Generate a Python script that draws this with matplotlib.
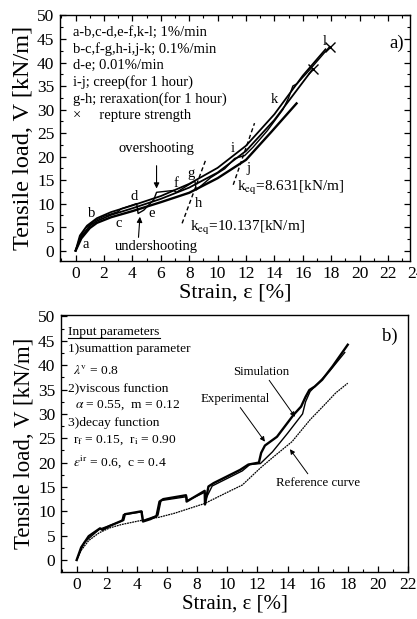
import matplotlib
matplotlib.use("Agg")
import matplotlib.pyplot as plt
from matplotlib.ticker import MultipleLocator
from matplotlib.lines import Line2D

plt.rcParams['font.family'] = ['Liberation Serif', 'DejaVu Serif']
plt.rcParams['mathtext.fontset'] = 'stix'

# ---------------- Panel a) data ----------------
main_x = [0, 0.3, 0.7, 1.37, 2.0, 3.0, 3.2, 4.3, 4.4, 4.8, 5.5, 5.7, 6.9, 7.1, 8.4, 8.5,
          9.5, 10.5, 11.2, 11.9, 12.5, 13.5, 14.6, 15.0, 15.3, 15.6, 16.5, 17.9]
main_y = [0, 2.8, 4.8, 6.4, 7.3, 8.3, 8.9, 10.0, 7.9, 8.6, 10.8, 12.4, 12.8, 12.4, 14.8, 12.9,
          15.5, 17.4, 19.6, 20.2, 22.0, 25.5, 30.0, 32.5, 35.0, 35.5, 38.5, 43.4]

c1_x = [0, 0.3, 0.8, 1.5, 2.5, 4.0, 6.0, 8.0, 10.0, 12.0, 14.0, 16.0, 17.6]
c1_y = [0, 3.2, 5.3, 6.9, 8.2, 9.6, 11.6, 14.2, 17.6, 22.3, 29.0, 37.2, 42.8]

c2_x = [0, 0.4, 1.0, 1.5, 2.5, 4.0, 6.0, 8.0, 10.0, 12.0, 14.0, 16.7]
c2_y = [0, 3.0, 5.3, 6.3, 7.6, 9.0, 11.0, 13.4, 16.6, 21.2, 27.8, 38.6]

c3_x = [0, 0.4, 1.0, 1.5, 2.5, 4.0, 6.0, 8.0, 10.0, 12.0, 13.8, 15.56]
c3_y = [0, 2.6, 4.8, 5.9, 7.1, 8.4, 10.3, 12.3, 15.4, 19.3, 25.3, 31.3]

rupture_x = [17.9, 16.7]
rupture_y = [43.4, 38.6]

keq1_x = [7.5, 9.2]
keq1_y = [5.8, 19.6]
keq2_x = [11.1, 12.6]
keq2_y = [14.0, 27.1]

point_labels = ['a', 'b', 'c', 'd', 'e', 'f', 'g', 'h', 'i', 'j', 'k', 'l']
point_lx = [0.73, 1.13, 3.0, 4.1, 5.35, 7.1, 8.1, 8.68, 11.03, 12.2, 14.0, 17.55]
point_ly = [1.2, 7.95, 5.8, 11.5, 7.95, 14.3, 16.45, 10.1, 21.8, 17.5, 32.2, 44.4]

legend_a = ['a-b,c-d,e-f,k-l; 1%/min',
            'b-c,f-g,h-i,j-k; 0.1%/min',
            'd-e; 0.01%/min',
            'i-j; creep(for 1 hour)',
            'g-h; reraxation(for 1 hour)',
            '\u00d7     repture strength']

# ---------------- Panel b) data ----------------
exp_x = [0, 0.3, 0.8, 1.55, 1.7, 2.2, 3.1, 3.2, 4.3, 4.4, 4.9, 5.3, 5.5, 5.75, 7.26, 7.3,
         8.5, 8.52, 8.75, 9.1, 10.85, 11.4, 12.1, 12.25, 12.5, 13.3, 14.4, 14.9, 15.2, 15.45,
         15.8, 16.3, 17.0, 18.0]
exp_y = [0, 2.6, 4.9, 6.5, 6.2, 7.0, 8.2, 9.4, 10.0, 7.9, 8.4, 9.0, 12.0, 12.5, 13.3, 12.0,
         14.2, 11.4, 15.1, 15.8, 18.5, 19.6, 20.0, 22.0, 23.5, 25.3, 29.8, 31.5, 33.5, 34.9,
         35.6, 37.0, 39.8, 44.2]

sim_x = [0, 0.5, 1.5, 3.0, 3.1, 4.35, 4.4, 5.4, 5.6, 7.3, 7.35, 8.5, 8.55, 9.0, 11.0, 11.5,
         12.2, 13.0, 14.0, 15.0, 15.2, 15.5, 16.0, 16.8, 17.8]
sim_y = [0, 3.6, 6.3, 8.0, 9.3, 9.9, 8.1, 9.2, 12.2, 13.0, 12.2, 13.9, 12.4, 15.2, 18.3, 19.6,
         19.8, 22.2, 26.0, 30.0, 32.5, 34.6, 36.2, 38.8, 42.6]

ref_x = [0, 0.3, 0.8, 1.5, 2.2, 3.0, 4.4, 5.5, 6.5, 7.3, 8.5, 10.0, 11.0, 12.2, 13.0, 14.3,
         15.5, 16.5, 17.2, 18.0]
ref_y = [0, 2.0, 4.0, 5.6, 6.6, 7.3, 8.2, 8.8, 9.6, 10.4, 11.6, 13.9, 15.4, 18.9, 21.0, 24.3,
         28.8, 32.0, 34.3, 36.3]

params_b = ['1)sumattion parameter',
            '$\\lambda^{\\rm v}$ = 0.8',
            '2)viscous function',
            '$\\alpha$ = 0.55,  m = 0.12',
            '3)decay function',
            'r$_{\\rm f}$ = 0.15,  r$_{\\rm i}$ = 0.90',
            '$\\varepsilon^{\\rm ir}$ = 0.6,  c = 0.4']
params_x = [-0.56, -0.23, -0.56, -0.11, -0.56, -0.23, -0.23]
params_y = [43.4, 38.9, 35.1, 31.7, 28.1, 24.5, 20.1]

# ---------------- Figure ----------------
fig = plt.figure(figsize=(4.17, 6.19), dpi=100)
axA = fig.add_axes([60/417, 1-260.5/619, 350/417, 245.5/619])
axB = fig.add_axes([61/417, 1-571.7/619, 347/417, 256.7/619])

tick_fs = 12.5
txt_fs = 9.7

def style(ax, xlim, ylim, mirror, xl_fs, yl_fs):
    ax.set_xlim(*xlim)
    ax.set_ylim(*ylim)
    ax.xaxis.set_major_locator(MultipleLocator(2))
    ax.xaxis.set_minor_locator(MultipleLocator(1))
    ax.yaxis.set_major_locator(MultipleLocator(5))
    ax.yaxis.set_minor_locator(MultipleLocator(2.5))
    ax.tick_params(which='both', direction='in', top=mirror, right=mirror,
                   labelsize=tick_fs, pad=4)
    ax.tick_params(which='major', length=4, width=0.9)
    ax.tick_params(which='minor', length=2.5, width=0.8)
    for s in ax.spines.values():
        s.set_linewidth(1.0)
    ax.set_xlabel('Strain, \u03b5 [%]', fontsize=xl_fs, labelpad=1)
    ax.set_ylabel('Tensile load, V [kN/m]', fontsize=yl_fs, labelpad=2)

# ---- panel a
style(axA, (-1.1, 23.55), (-2.1, 50.1), True, 16, 17.5)
axA.plot(c3_x, c3_y, color='black', lw=1.7)
axA.plot(c2_x, c2_y, color='black', lw=1.3)
axA.plot(c1_x, c1_y, color='black', lw=1.3)
axA.plot(main_x, main_y, color='black', lw=1.0)
axA.plot(rupture_x, rupture_y, linestyle='none', marker='x', color='black',
         markersize=7, mew=1.0)
axA.plot(keq1_x, keq1_y, color='black', lw=1.0, ls=(0, (3, 2)))
axA.plot(keq2_x, keq2_y, color='black', lw=1.0, ls=(0, (3, 2)))
axA.annotate('24', xy=(24, 0), xycoords=('data', 'axes fraction'),
             xytext=(0, -4), textcoords='offset points',
             fontsize=tick_fs, ha='center', va='top', annotation_clip=False)

for lab, lx, ly in zip(point_labels, point_lx, point_ly):
    axA.text(lx, ly, lab, fontsize=10.5, ha='center', va='center')

for i, line in enumerate(legend_a):
    axA.text(-0.17, 46.4 - i * 3.55, line, fontsize=10.5, ha='left', va='center')

axA.text(22.6, 44.1, 'a)', fontsize=13.5, ha='center', va='center')
axA.annotate('overshooting', xy=(5.7, 13.2), xytext=(5.7, 21.8), fontsize=10.5,
             ha='center', va='center',
             arrowprops=dict(arrowstyle='-|>', color='black', lw=0.8,
                             mutation_scale=8, shrinkA=6, shrinkB=0))
axA.annotate('undershooting', xy=(4.53, 7.2), xytext=(5.7, 0.85), fontsize=10.5,
             ha='center', va='center',
             arrowprops=dict(arrowstyle='-|>', color='black', lw=0.8,
                             mutation_scale=8, shrinkA=0, shrinkB=0,
                             relpos=(0.28, 1.0)))
axA.text(11.4, 13.3, 'k$_{\\rm eq}$=8.631[kN/m]', fontsize=11, ha='left', va='center')
axA.text(8.05, 4.75, 'k$_{\\rm eq}$=10.137[kN/m]', fontsize=11, ha='left', va='center')

# ---- panel b
style(axB, (-1.04, 22.0), (-2.4, 50.3), False, 15, 16.5)
axB.plot(ref_x, ref_y, color='black', lw=0.9, ls=(0, (1.5, 0.6)))
axB.plot(sim_x, sim_y, color='black', lw=1.0)
axB.plot(exp_x, exp_y, color='black', lw=1.7)

t = axB.text(-0.56, 46.8, 'Input parameters', fontsize=txt_fs, ha='left', va='center')
for line, px, py in zip(params_b, params_x, params_y):
    axB.text(px, py, line, fontsize=txt_fs, ha='left', va='center')
axB.text(20.8, 45.9, 'b)', fontsize=13.5, ha='center', va='center')

arrow_b = dict(arrowstyle='-|>', color='black', lw=0.7, mutation_scale=7,
               shrinkA=0, shrinkB=0)
axB.annotate('Simulation', xy=(14.5, 29.4), xytext=(12.28, 38.7), fontsize=9.3,
             ha='center', va='center', arrowprops=dict(arrow_b, relpos=(0.6, 0.0)))
axB.annotate('Experimental', xy=(12.5, 24.3), xytext=(10.5, 33.1), fontsize=9.3,
             ha='center', va='center', arrowprops=dict(arrow_b, relpos=(0.55, 0.0)))
axB.annotate('Reference curve', xy=(14.16, 22.75), xytext=(16.04, 15.9), fontsize=9.3,
             ha='center', va='center', arrowprops=dict(arrow_b, relpos=(0.4, 1.0)))

# underline "Input parameters"
fig.canvas.draw()
bb = t.get_window_extent().transformed(axB.transData.inverted())
axB.add_line(Line2D([bb.x0, bb.x1], [bb.y0 + 0.1, bb.y0 + 0.1], color='black', lw=0.8))

fig.savefig('out.png', dpi=100)
